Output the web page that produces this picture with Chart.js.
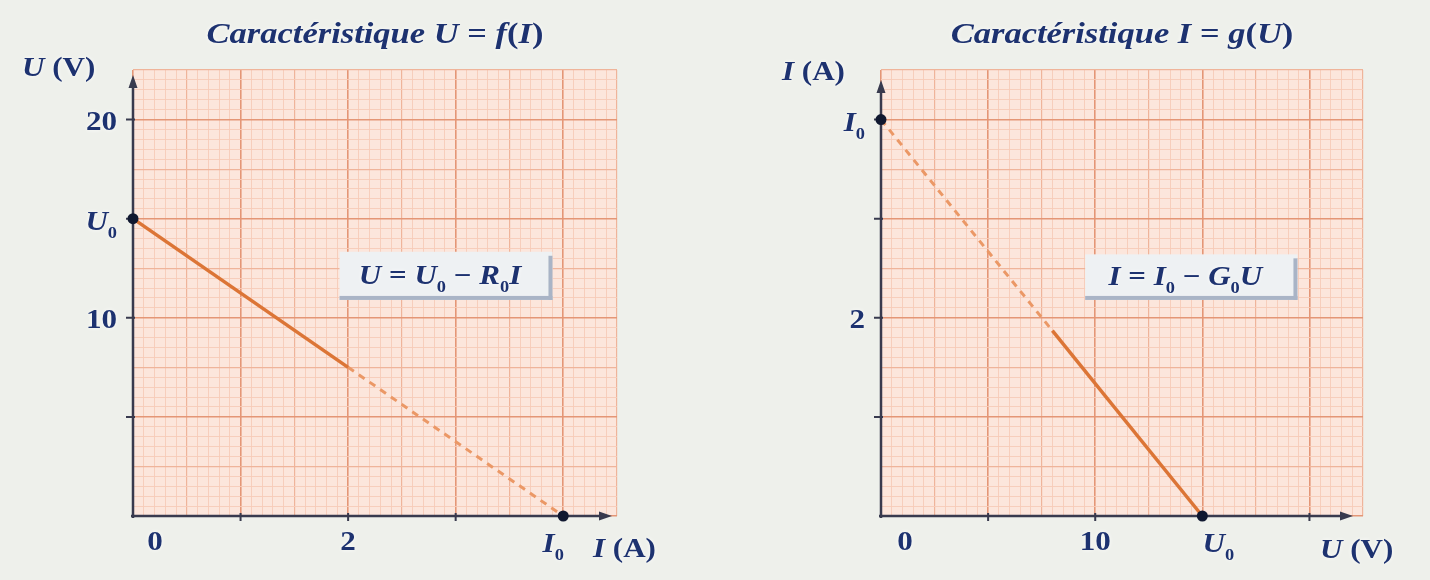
<!DOCTYPE html>
<html lang="fr">
<head>
<meta charset="utf-8">
<title>Caractéristiques U = f(I) et I = g(U)</title>
<script src="https://cdn.jsdelivr.net/npm/chart.js@4.4.1/dist/chart.umd.min.js"></script>
<style>
  html, body { margin: 0; padding: 0; background: #eef0eb; }
  .wrap { position: relative; width: 1430px; height: 580px; overflow: hidden; }
  canvas { position: absolute; top: 0; }
  #chartUI { left: 0; }
  #chartIU { left: 715px; }
</style>
</head>
<body>
<div class="wrap">
  <canvas id="chartUI" width="715" height="580"></canvas>
  <canvas id="chartIU" width="715" height="580"></canvas>
</div>
<script>
// U = f(I)
const uiTicksI = [0, 2];
const uiTicksU = [10, 20];
const uiSolid = [[0, 15], [2, 7.5]];
const uiDashed = [[2, 7.5], [4, 0]];
const uiMarks = [[0, 15], [4, 0]];   // U0 sur l'axe U, I0 sur l'axe I

// I = g(U)
const iuTicksU = [0, 10];
const iuTicksI = [2];
const iuDashed = [[0, 4], [8, 1.87]];
const iuSolid = [[8, 1.87], [15, 0]];
const iuMarks = [[0, 4], [15, 0]];   // I0 sur l'axe I, U0 sur l'axe U

const INK = '#1d3270';
const SERIF = '"Liberation Serif", "DejaVu Serif", serif';
const STRETCH = 1.15;

const pts = arr => arr.map(([x, y]) => ({ x, y }));

function isMultiple(v, step) {
  const r = v / step;
  return Math.abs(r - Math.round(r)) < 1e-6;
}

// papier millimetre : trait fin, demi-unite, unite
function paperGrid(major) {
  return {
    drawTicks: false,
    color: ctx => {
      const v = ctx.tick.value;
      if (isMultiple(v, major)) return '#e49676';
      if (isMultiple(v, major / 2)) return '#efb49a';
      return '#f6cbb8';
    },
    lineWidth: ctx => {
      const v = ctx.tick.value;
      if (isMultiple(v, major)) return 1.6;
      if (isMultiple(v, major / 2)) return 1.2;
      return 0.9;
    }
  };
}

function axis(max, step, major) {
  return {
    type: 'linear',
    min: 0,
    max: max,
    ticks: { display: false, stepSize: step, autoSkip: false, maxTicksLimit: 1000 },
    grid: paperGrid(major),
    border: { display: false }
  };
}

// runs : [texte, style] -- 'i' italique, 'r' droit, 's' indice
function drawRuns(ctx, runs, x, y, align, size) {
  const fonts = {
    i: `italic bold ${size}px ${SERIF}`,
    r: `bold ${size}px ${SERIF}`,
    s: `bold ${Math.round(size * 0.6)}px ${SERIF}`
  };
  ctx.save();
  ctx.textBaseline = 'alphabetic';
  let w = 0;
  const widths = runs.map(([t, s]) => {
    ctx.font = fonts[s];
    const m = ctx.measureText(t).width;
    w += m;
    return m;
  });
  ctx.translate(x, y);
  ctx.scale(STRETCH, 1);
  let cx = align === 'center' ? -w / 2 : align === 'right' ? -w : 0;
  ctx.fillStyle = INK;
  ctx.shadowColor = 'rgba(255,255,255,0.9)';
  ctx.shadowBlur = 4;
  runs.forEach(([t, s], k) => {
    ctx.font = fonts[s];
    ctx.fillText(t, cx, s === 's' ? size * 0.3 : 0);
    cx += widths[k];
  });
  ctx.restore();
}

const paperPlugin = {
  id: 'papier',
  beforeDraw(chart, args, o) {
    const { ctx, chartArea: a } = chart;
    ctx.save();
    ctx.fillStyle = '#fce6dc';
    ctx.fillRect(a.left, a.top, a.right - a.left, a.bottom - a.top);
    ctx.restore();
  },
  beforeDatasetsDraw(chart, args, o) {
    const { ctx, scales: { x, y } } = chart;
    const x0 = x.getPixelForValue(0), y0 = y.getPixelForValue(0);
    ctx.save();
    ctx.strokeStyle = ctx.fillStyle = '#383a4e';
    ctx.lineWidth = 2.5;
    ctx.beginPath();
    ctx.moveTo(x0, y0 + 2);
    ctx.lineTo(x0, o.yTip + 8);
    ctx.moveTo(x0 - 2, y0);
    ctx.lineTo(o.xTip - 8, y0);
    ctx.stroke();
    // fleches
    ctx.beginPath();
    ctx.moveTo(x0, o.yTip);
    ctx.lineTo(x0 - 4.5, o.yTip + 13);
    ctx.lineTo(x0 + 4.5, o.yTip + 13);
    ctx.closePath();
    ctx.moveTo(o.xTip, y0);
    ctx.lineTo(o.xTip - 13, y0 - 4.5);
    ctx.lineTo(o.xTip - 13, y0 + 4.5);
    ctx.closePath();
    ctx.fill();
    // graduations
    ctx.lineWidth = 2;
    ctx.beginPath();
    for (let v = o.xMajor; v < x.max - 1e-6; v += o.xMajor) {
      const px = x.getPixelForValue(v);
      ctx.moveTo(px, y0 - 3);
      ctx.lineTo(px, y0 + 5);
    }
    for (let v = o.yMajor; v < y.max - 1e-6; v += o.yMajor) {
      const py = y.getPixelForValue(v);
      ctx.moveTo(x0 - 7, py);
      ctx.lineTo(x0 + 2, py);
    }
    ctx.stroke();
    ctx.restore();
  },
  afterDraw(chart, args, o) {
    const { ctx, chartArea: a, scales: { x, y } } = chart;
    const x0 = x.getPixelForValue(0), y0 = y.getPixelForValue(0);

    drawRuns(ctx, o.title, (a.left + a.right) / 2, 43, 'center', 30);
    drawRuns(ctx, o.yName.runs, o.yName.x, o.yName.y, 'left', 27);
    drawRuns(ctx, o.xName.runs, o.xName.x, o.xName.y, 'left', 27);

    o.xTicks.forEach(v => drawRuns(ctx, [[String(v), 'r']],
      x.getPixelForValue(v) + (v === 0 ? o.zeroShift : 0), y0 + 34, 'center', 27));
    o.yTicks.forEach(v => drawRuns(ctx, [[String(v), 'r']],
      x0 - 16, y.getPixelForValue(v) + 10, 'right', 27));

    o.xNamed.forEach(n => drawRuns(ctx, n.runs, x.getPixelForValue(n.v) + n.dx, y0 + 36, 'center', 27));
    o.yNamed.forEach(n => drawRuns(ctx, n.runs, x0 - 16, y.getPixelForValue(n.v) + 11, 'right', 27));

    // cadre de l'equation
    const b = o.box;
    const bx1 = x.getPixelForValue(b.x[0]), bx2 = x.getPixelForValue(b.x[1]);
    const by1 = y.getPixelForValue(b.y[0]), by2 = y.getPixelForValue(b.y[1]);
    ctx.save();
    ctx.fillStyle = '#eef1f3';
    ctx.fillRect(bx1, by1, bx2 - bx1, by2 - by1);
    ctx.fillStyle = '#a9b4c6';
    ctx.fillRect(bx2 - 4, by1 + 4, 4, by2 - by1 - 4);
    ctx.fillRect(bx1, by2 - 4, bx2 - bx1, 4);
    ctx.restore();
    drawRuns(ctx, b.runs, (bx1 + bx2) / 2 - 6, (by1 + by2) / 2 + 8, 'center', 27);
  }
};

function lineSet(arr, dashed) {
  return {
    data: pts(arr),
    showLine: true,
    pointRadius: 0,
    borderColor: dashed ? '#eb9866' : '#dc7536',
    borderWidth: dashed ? 3 : 3.5,
    borderDash: dashed ? [7, 6] : [],
    clip: false
  };
}

function markSet(arr) {
  return {
    data: pts(arr),
    showLine: false,
    pointRadius: 5.5,
    pointBackgroundColor: '#101830',
    pointBorderWidth: 0,
    clip: false
  };
}

function makeChart(id, datasets, scales, padding, papier) {
  return new Chart(document.getElementById(id), {
    type: 'scatter',
    data: { datasets },
    options: {
      responsive: false,
      animation: false,
      events: [],
      layout: { padding, autoPadding: false },
      scales,
      plugins: { legend: { display: false }, tooltip: { enabled: false }, papier }
    },
    plugins: [paperPlugin]
  });
}

makeChart('chartUI',
  [markSet(uiMarks), lineSet(uiSolid, false), lineSet(uiDashed, true)],
  { x: axis(4.5, 0.1, 1), y: axis(22.5, 0.5, 5) },
  { left: 133, right: 98, top: 70, bottom: 64 },
  {
    title: [['Caractéristique ', 'i'], ['U', 'i'], [' = ', 'r'], ['f', 'i'], ['(', 'r'], ['I', 'i'], [')', 'r']],
    yName: { runs: [['U', 'i'], [' (V)', 'r']], x: 22, y: 76 },
    xName: { runs: [['I', 'i'], [' (A)', 'r']], x: 593, y: 557 },
    xTicks: uiTicksI,
    yTicks: uiTicksU,
    xNamed: [{ v: uiMarks[1][0], dx: -10, runs: [['I', 'i'], ['0', 's']] }],
    yNamed: [{ v: uiMarks[0][1], runs: [['U', 'i'], ['0', 's']] }],
    xMajor: 1, yMajor: 5,
    zeroShift: 22,
    xTip: 612, yTip: 75,
    box: {
      x: [1.92, 3.9], y: [13.33, 10.9],
      runs: [['U', 'i'], [' = ', 'r'], ['U', 'i'], ['0', 's'], [' \u2212 ', 'r'], ['R', 'i'], ['0', 's'], ['I', 'i']]
    }
  });

makeChart('chartIU',
  [markSet(iuMarks), lineSet(iuSolid, false), lineSet(iuDashed, true)],
  { x: axis(22.5, 0.5, 5), y: axis(4.5, 0.1, 1) },
  { left: 166, right: 67, top: 70, bottom: 64 },
  {
    title: [['Caractéristique ', 'i'], ['I', 'i'], [' = ', 'r'], ['g', 'i'], ['(', 'r'], ['U', 'i'], [')', 'r']],
    yName: { runs: [['I', 'i'], [' (A)', 'r']], x: 67, y: 80 },
    xName: { runs: [['U', 'i'], [' (V)', 'r']], x: 605, y: 558 },
    xTicks: iuTicksU,
    yTicks: iuTicksI,
    xNamed: [{ v: iuMarks[1][0], dx: 16, runs: [['U', 'i'], ['0', 's']] }],
    yNamed: [{ v: iuMarks[0][1], runs: [['I', 'i'], ['0', 's']] }],
    xMajor: 5, yMajor: 1,
    zeroShift: 24,
    xTip: 638, yTip: 80,
    box: {
      x: [9.53, 19.44], y: [2.64, 2.18],
      runs: [['I', 'i'], [' = ', 'r'], ['I', 'i'], ['0', 's'], [' \u2212 ', 'r'], ['G', 'i'], ['0', 's'], ['U', 'i']]
    }
  });
</script>
</body>
</html>
